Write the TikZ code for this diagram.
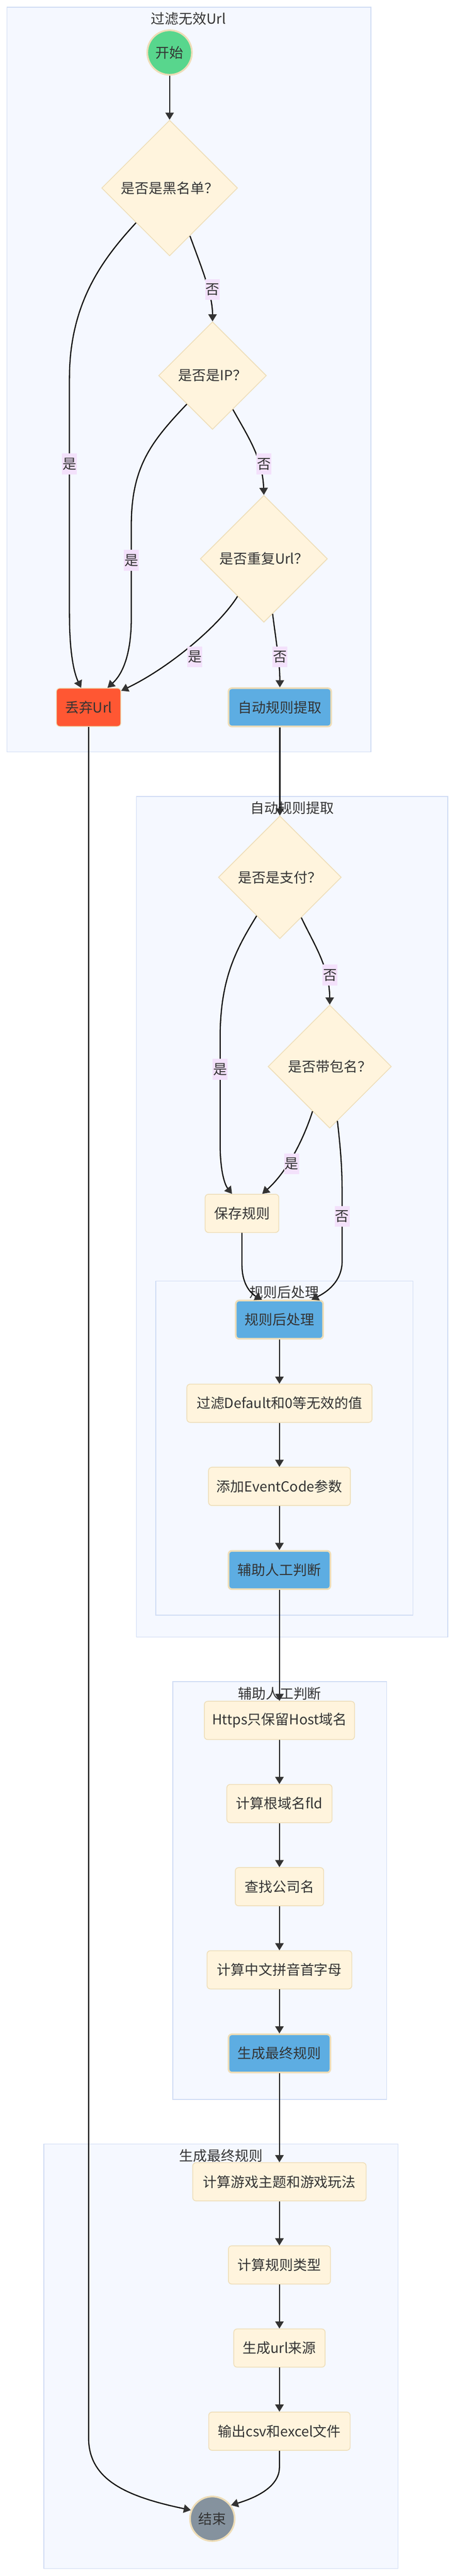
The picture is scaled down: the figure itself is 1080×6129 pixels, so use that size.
\documentclass[tikz,border=0pt]{standalone}
\usepackage{fontspec}
\setmainfont{Noto Sans CJK SC}
\usepackage{tikz}
\usetikzlibrary{positioning, shapes.geometric, arrows.meta}

\definecolor{clusterfill}{HTML}{F5F8FF}
\definecolor{clusterline}{HTML}{D0DCF4}
\definecolor{boxfill}{HTML}{FFF4DD}
\definecolor{boxline}{HTML}{EEDDB7}
\definecolor{stepblue}{HTML}{5DADE2}
\definecolor{dropred}{HTML}{FF5733}
\definecolor{startgreen}{HTML}{58D68D}
\definecolor{endgray}{HTML}{85929E}
\definecolor{labelbg}{HTML}{F3E1FB}
\definecolor{txt}{HTML}{333333}
\definecolor{linec}{HTML}{111111}
\definecolor{tipc}{HTML}{333333}

\tikzset{
  every node/.append style={text=txt, font=\fontsize{33pt}{40pt}\selectfont},
  box/.style={draw=boxline, fill=boxfill, line width=1.8pt, rounded corners=8pt, minimum height=91pt, inner sep=0pt},
  bluebox/.style={box, fill=stepblue, line width=4pt},
  redbox/.style={box, fill=dropred},
  decision/.style={diamond, aspect=1, draw=boxline, fill=boxfill, line width=1.8pt, inner sep=0pt},
  terminal/.style={circle, draw=boxline, line width=4pt, minimum size=106pt, inner sep=0pt},
  cluster/.style={draw=clusterline, fill=clusterfill, line width=1.8pt},
  ctitle/.style={inner sep=0pt},
  elabel/.style={fill=labelbg, inner xsep=1pt, inner ysep=0pt, minimum height=50pt},
  flow/.style={draw=linec, line width=2.8pt, -{Triangle[length=17pt, width=20pt, color=tipc]}}
}

\begin{document}
\begin{tikzpicture}[x=1pt, y=-1pt, node distance=105pt]
  \path[use as bounding box, fill=white] (0,0) rectangle (1080,6129);

  % subgraphs
  \draw[cluster] (16.5,17) rectangle (881.5,1789);
  \node[ctitle] (t1) at (448,45) {过滤无效Url};
  \draw[cluster] (324,1895) rectangle (1064,3895);
  \node[ctitle] (t2) at (694,1922) {自动规则提取};
  \draw[cluster] (370,3048) rectangle (981,3843);
  \node[ctitle] (t3) at (675.5,3075) {规则后处理};
  \draw[cluster] (410.5,4001) rectangle (919,4995);
  \node[ctitle] (t4) at (664.5,4029) {辅助人工判断};
  \draw[cluster] (104,5101) rectangle (946,6111);
  \node[ctitle] (t5) at (525,5129) {生成最终规则};

  % filter
  \node[terminal, fill=startgreen] (start) at (403,125) {开始};
  \node[decision, minimum size=323pt] (blacklist) [below=105pt of start] {是否是黑名单？};
  \node[decision, minimum size=256pt] (isip) [below=155pt of blacklist, xshift=102pt] {是否是IP？};
  \node[decision, minimum size=302pt] (dupurl) [below=155pt of isip, xshift=122pt] {是否重复Url？};
  \node[bluebox, minimum width=244pt] (autorule) [below=154pt of dupurl, xshift=38pt] {自动规则提取};
  \node[redbox, minimum width=153pt] (drop) [left=253pt of autorule] {丢弃Url};

  % auto rule
  \node[decision, minimum size=292pt] (pay) [below=210pt of autorule] {是否是支付？};
  \node[decision, minimum size=293pt] (pkg) [below=156pt of pay, xshift=118.5pt] {是否带包名？};
  \node[box, minimum width=175pt] (save) [below=155.5pt of pkg, xshift=-208.5pt] {保存规则};
  \node[bluebox, minimum width=207.5pt] (post) [below=159pt of save, xshift=89pt] {规则后处理};
  \node[box, minimum width=440pt] (filter) [below=of post] {过滤Default和0等无效的值};
  \node[box, minimum width=337pt] (addev) [below=of filter] {添加EventCode参数};
  \node[bluebox, minimum width=242pt] (assist) [below=of addev] {辅助人工判断};

  % manual check
  \node[box, minimum width=357pt] (https) [below=264pt of assist] {Https只保留Host域名};
  \node[box, minimum width=250pt] (fld) [below=of https] {计算根域名fld};
  \node[box, minimum width=210pt] (company) [below=of fld] {查找公司名};
  \node[box, minimum width=344pt] (pinyin) [below=of company] {计算中文拼音首字母};
  \node[bluebox, minimum width=242pt] (final) [below=of pinyin] {生成最终规则};

  % final rule
  \node[box, minimum width=412pt] (game) [below=211.5pt of final] {计算游戏主题和游戏玩法};
  \node[box, minimum width=242.5pt] (ruletype) [below=of game] {计算规则类型};
  \node[box, minimum width=217pt] (urlsrc) [below=of ruletype] {生成url来源};
  \node[box, minimum width=336pt] (out) [below=of urlsrc] {输出csv和excel文件};
  \node[terminal, fill=endgray] (end) [below=107pt of out, xshift=-159.5pt] {结束};

  \draw[flow] (start) -- (blacklist);
  \draw[flow] (blacklist.293) .. controls (480,640) and (505,700) .. (isip.north);
  \draw[flow] (blacklist.226) .. controls (245,615) and (165,720) .. (165,900) -- (165,1460) .. controls (165,1570) and (180,1610) .. (drop.111);
  \draw[flow] (isip.301) .. controls (590,1040) and (624,1090) .. (dupurl.north);
  \draw[flow] (isip.228) .. controls (360,1050) and (312,1110) .. (312,1250) -- (312,1470) .. controls (312,1560) and (290,1605) .. (drop.46);
  \draw[flow] (dupurl.235) .. controls (520,1490) and (400,1590) .. (drop.27);
  \draw[flow] (dupurl.279) .. controls (658,1540) and (665,1580) .. (autorule.north);
  \draw[flow] (autorule) -- (pay);
  \draw[flow] (drop.south) -- (210.5,5800) .. controls (210.5,5900) and (300,5940) .. (end.158);
  \draw[flow] (pay.298) .. controls (745,2245) and (783,2300) .. (pkg.north);
  \draw[flow] (pay.239) .. controls (560,2260) and (523,2330) .. (523,2470) -- (523,2720) .. controls (523,2790) and (535,2820) .. (save.117);
  \draw[flow] (pkg.249) .. controls (720,2715) and (680,2790) .. (save.44);
  \draw[flow] (pkg.278) .. controls (810,2740) and (813,2780) .. (813,2850) -- (813,3000) .. controls (813,3050) and (775,3075) .. (post.32);
  \draw[flow] (save.south) -- (575,3010) .. controls (575,3060) and (600,3080) .. (post.131);
  \foreach \a/\b in {post/filter, filter/addev, addev/assist, assist/https, https/fld, fld/company, company/pinyin, pinyin/final, final/game, game/ruletype, ruletype/urlsrc, urlsrc/out}
    \draw[flow] (\a) -- (\b);
  \draw[flow] (out.south) -- (664,5870) .. controls (664,5920) and (600,5945) .. (end.36);

  % edge labels
  \node[elabel] (no1) at (505,689) {否};
  \node[elabel] (yes1) at (165,1104) {是};
  \node[elabel] (no2) at (627,1104) {否};
  \node[elabel] (yes2) at (312,1333) {是};
  \node[elabel] (yes3) at (463,1563) {是};
  \node[elabel] (no3) at (665,1563) {否};
  \node[elabel] (no4) at (784,2320) {否};
  \node[elabel] (yes4) at (523,2544) {是};
  \node[elabel] (yes5) at (693,2769) {是};
  \node[elabel] (no5) at (813,2894) {否};
\end{tikzpicture}
\end{document}
